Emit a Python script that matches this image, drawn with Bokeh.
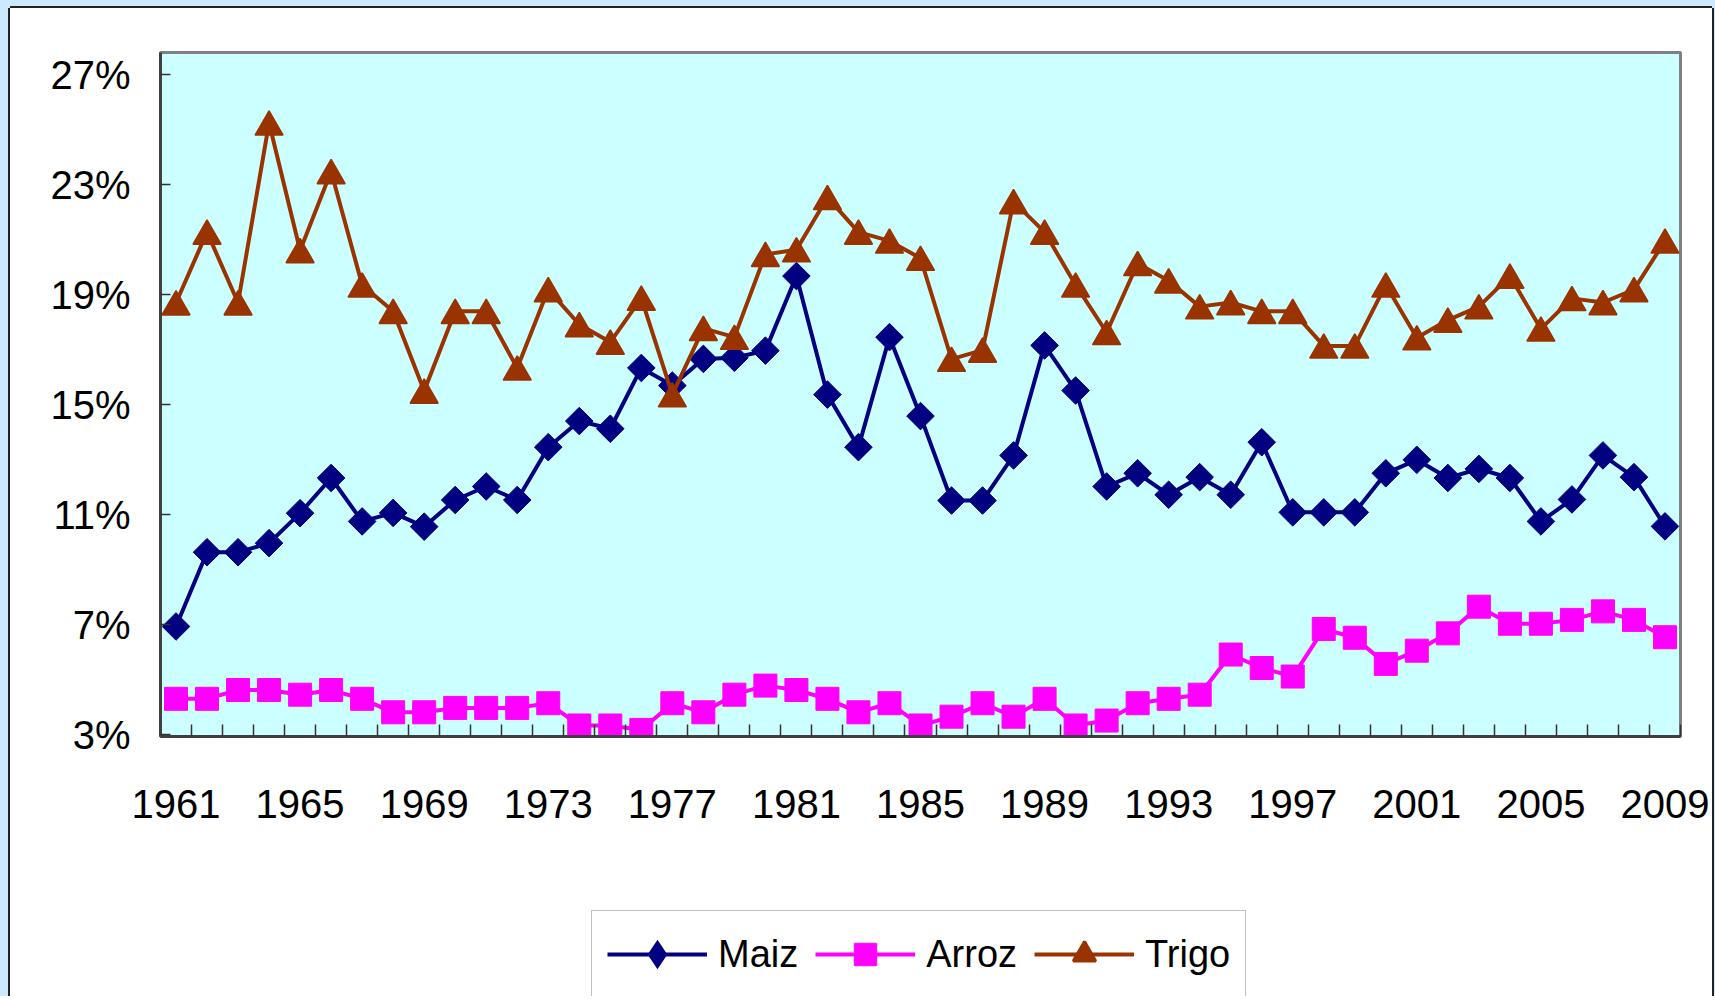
import math
from bokeh.plotting import figure
from bokeh.layouts import column
from bokeh.models import (FixedTicker, PrintfTickFormatter, Legend, LegendItem,
                          Range1d, ColumnDataSource)
from bokeh.embed import file_html
from bokeh.resources import INLINE

years = list(range(1961, 2010))

maiz = [6.93, 9.63, 9.63, 9.96, 11.05, 12.33, 10.75, 11.06, 10.56, 11.53,
        12.02, 11.53, 13.45, 14.40, 14.12, 16.33, 15.69, 16.66, 16.70, 16.96,
        19.67, 15.36, 13.45, 17.45, 14.58, 11.51, 11.51, 13.15, 17.15, 15.51,
        12.02, 12.50, 11.72, 12.36, 11.72, 13.63, 11.08, 11.08, 11.08, 12.50,
        12.99, 12.33, 12.66, 12.33, 10.75, 11.55, 13.15, 12.36, 10.57]

arroz = [4.30, 4.30, 4.62, 4.62, 4.45, 4.62, 4.30, 3.81, 3.81, 3.97,
         3.97, 3.97, 4.14, 3.33, 3.33, 3.17, 4.14, 3.81, 4.45, 4.78,
         4.62, 4.30, 3.81, 4.14, 3.33, 3.65, 4.14, 3.65, 4.30, 3.33,
         3.51, 4.14, 4.30, 4.45, 5.91, 5.42, 5.11, 6.84, 6.52, 5.57,
         6.05, 6.68, 7.65, 7.03, 7.03, 7.17, 7.48, 7.17, 6.54]

trigo = [18.70, 21.27, 18.70, 25.24, 20.60, 23.47, 19.35, 18.39, 15.49, 18.39,
         18.39, 16.33, 19.18, 17.91, 17.27, 18.87, 15.36, 17.77, 17.45, 20.46,
         20.63, 22.53, 21.27, 20.95, 20.32, 16.65, 16.98, 22.38, 21.27, 19.35,
         17.62, 20.13, 19.50, 18.56, 18.71, 18.39, 18.39, 17.13, 17.13, 19.35,
         17.43, 18.07, 18.56, 19.67, 17.75, 18.86, 18.71, 19.18, 20.95]

y_ticks = [3, 7, 11, 15, 19, 23, 27]
x_label_years = list(range(1961, 2010, 4))
series_names = ["Maiz", "Arroz", "Trigo"]

# ---- styling ----
FONT = "Liberation Sans"
C_MAIZ, C_ARROZ, C_TRIGO = "#000080", "#FF00FF", "#993300"
Y_START, Y_END = 2.93, 27.8
FRAME_W, FRAME_H = 1520, 684
TRI_SIZE = 28
LW = 4

# Bokeh centres a triangle on its centroid; the original centres it on its box
ppu = FRAME_H / (Y_END - Y_START)
tri_shift = (TRI_SIZE / 2 * math.sqrt(3) / 6) / ppu

src = ColumnDataSource(dict(
    year=years, maiz=maiz, arroz=arroz, trigo=trigo,
    trigo_m=[v - tri_shift for v in trigo],
))

# ---- main chart ----
p = figure(frame_width=FRAME_W, frame_height=FRAME_H,
           x_range=Range1d(1960.5, 2009.5), y_range=Range1d(Y_START, Y_END),
           output_backend="svg", toolbar_location=None, title=None,
           min_border_left=150, min_border_right=32,
           min_border_top=44, min_border_bottom=152)

p.background_fill_color = "#CCFFFF"
p.border_fill_color = "white"
p.outline_line_color = "#808080"
p.outline_line_width = 3
p.xgrid.visible = False
p.ygrid.visible = False

xa = p.xaxis[0]
xa.ticker = FixedTicker(ticks=x_label_years,
                        minor_ticks=[y - 0.5 for y in years] + [years[-1] + 0.5])
xa.major_tick_in = 0
xa.major_tick_out = 0
xa.major_tick_line_color = None
xa.minor_tick_in = 12
xa.minor_tick_out = 0
xa.minor_tick_line_color = "#333333"
xa.minor_tick_line_width = 1.5
xa.axis_line_color = "#404040"
xa.axis_line_width = 3
xa.major_label_text_font = FONT
xa.major_label_text_font_size = "40px"
xa.major_label_text_color = "black"
xa.major_label_standoff = 53

ya = p.yaxis[0]
ya.ticker = FixedTicker(ticks=y_ticks)
ya.formatter = PrintfTickFormatter(format="%d%%")
ya.major_tick_in = 10
ya.major_tick_out = 0
ya.major_tick_line_color = "#333333"
ya.major_tick_line_width = 1.5
ya.minor_tick_line_color = None
ya.axis_line_color = "#404040"
ya.axis_line_width = 3
ya.major_label_text_font = FONT
ya.major_label_text_font_size = "40px"
ya.major_label_text_color = "black"
ya.major_label_standoff = 30

p.line("year", "maiz", source=src, line_color=C_MAIZ, line_width=LW)
p.scatter("year", "maiz", source=src, marker="square", angle=math.pi / 4,
          size=19.5, fill_color=C_MAIZ, line_color=C_MAIZ, line_width=1)
p.line("year", "arroz", source=src, line_color=C_ARROZ, line_width=LW)
p.scatter("year", "arroz", source=src, marker="square", size=23,
          fill_color=C_ARROZ, line_color=C_ARROZ, line_width=1)
p.line("year", "trigo", source=src, line_color=C_TRIGO, line_width=LW)
p.scatter("year", "trigo_m", source=src, marker="triangle", size=TRI_SIZE,
          fill_color=C_TRIGO, line_color=C_TRIGO, line_width=1.5)

# ---- legend strip (its own canvas so the box can run off the bottom) ----
p_leg = figure(width=1702, height=108, min_border=0,
               x_range=Range1d(1960.5, 2009.5), y_range=Range1d(-100, -99),
               x_axis_type=None, y_axis_type=None, title=None,
               output_backend="svg", toolbar_location=None)
p_leg.outline_line_color = None
p_leg.background_fill_color = "white"
p_leg.border_fill_color = "white"
p_leg.grid.visible = False

# same series drawn off-range here; they only supply the legend swatches
k1 = p_leg.line("year", "maiz", source=src, line_color=C_MAIZ, line_width=LW)
m1 = p_leg.scatter("year", "maiz", source=src, marker="diamond", fill_color=C_MAIZ,
                   line_color=C_MAIZ, line_width=4, line_join="miter")
k2 = p_leg.line("year", "arroz", source=src, line_color=C_ARROZ, line_width=LW)
m2 = p_leg.scatter("year", "arroz", source=src, marker="square", fill_color=C_ARROZ,
                   line_color=C_ARROZ, line_width=1)
k3 = p_leg.line("year", "trigo", source=src, line_color=C_TRIGO, line_width=LW)
m3 = p_leg.scatter("year", "trigo", source=src, marker="triangle", fill_color=C_TRIGO,
                   line_color=C_TRIGO, line_width=3)

legend = Legend(items=[LegendItem(label=series_names[0], renderers=[k1, m1]),
                       LegendItem(label=series_names[1], renderers=[k2, m2]),
                       LegendItem(label=series_names[2], renderers=[k3, m3])],
                orientation="horizontal", location=(431, -2),
                glyph_width=100, glyph_height=56, label_height=56,
                label_standoff=11, spacing=17, padding=15, margin=0,
                border_line_color="#808080", border_line_width=1.5,
                background_fill_color="white", background_fill_alpha=1,
                label_text_font=FONT, label_text_font_size="38px",
                label_text_color="black")
p_leg.add_layout(legend)

page = column(p, p_leg, spacing=0, margin=(8, 0, 0, 10),
              styles={"box-shadow": ("-2px 0 0 0 #222222, 2px 0 0 0 #222222, "
                                     "0 -2px 0 0 #222222, 0 -20px 0 20px #CCE9FF")})

open("out.html", "w").write(file_html(page, INLINE))
